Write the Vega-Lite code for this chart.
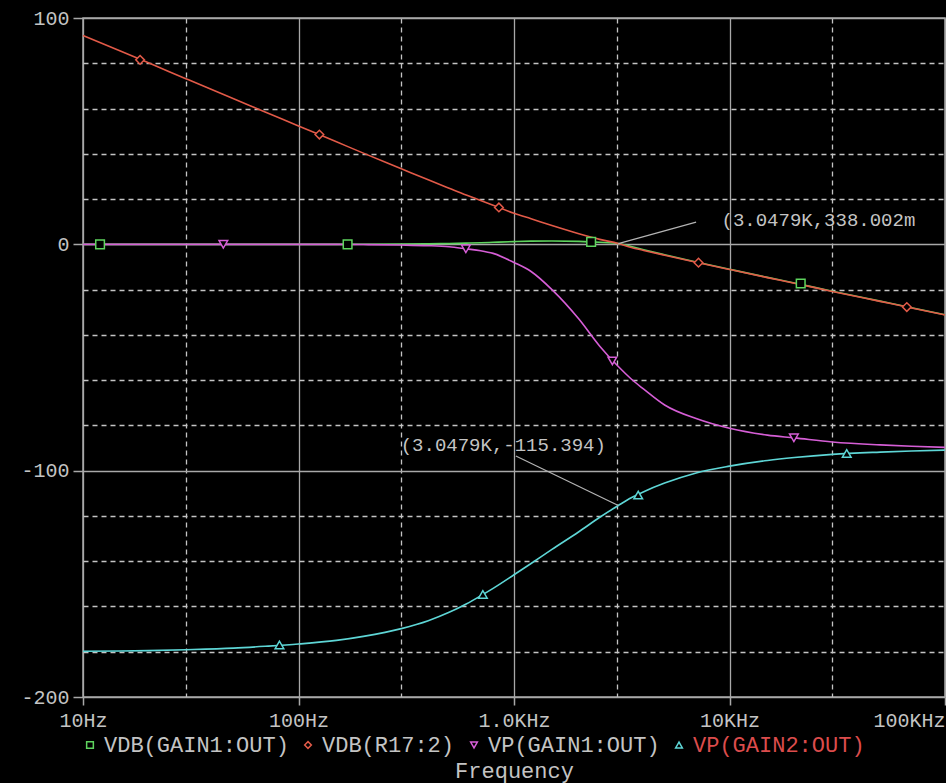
{
  "$schema": "https://vega.github.io/schema/vega-lite/v6.json",
  "width": 862,
  "height": 679,
  "autosize": {"type": "none"},
  "padding": {"left": 83, "top": 18, "right": 1, "bottom": 86},
  "background": "#000000",
  "config": {
    "view": {"stroke": "#a8a8a8", "strokeWidth": 1.5, "fill": "#000000"},
    "axis": {
      "labelFont": "Liberation Mono",
      "labelFontSize": 20,
      "labelColor": "#c4c4c4",
      "titleFont": "Liberation Mono",
      "titleFontSize": 22,
      "titleColor": "#c4c4c4",
      "titleFontWeight": "normal",
      "domain": false,
      "tickColor": "#a8a8a8",
      "tickWidth": 1.5
    },
    "legend": {
      "title": null,
      "orient": "none",
      "legendX": -4,
      "legendY": 716,
      "direction": "horizontal",
      "columns": 4,
      "padding": 0,
      "columnPadding": 8,
      "labelFont": "Liberation Mono",
      "labelFontSize": 22,
      "labelColor": "#c4c4c4",
      "labelOffset": 3,
      "labelLimit": 400,
      "symbolSize": 45,
      "symbolStrokeWidth": 1.5,
      "symbolFillColor": "#000000"
    }
  },
  "datasets": {
    "curves": [
      {"series": "VDB(GAIN1:OUT)", "f": 10, "v": 0},
      {"series": "VDB(GAIN1:OUT)", "f": 15, "v": 0},
      {"series": "VDB(GAIN1:OUT)", "f": 20, "v": 0},
      {"series": "VDB(GAIN1:OUT)", "f": 30, "v": 0},
      {"series": "VDB(GAIN1:OUT)", "f": 50, "v": 0},
      {"series": "VDB(GAIN1:OUT)", "f": 70, "v": 0},
      {"series": "VDB(GAIN1:OUT)", "f": 100, "v": 0},
      {"series": "VDB(GAIN1:OUT)", "f": 150, "v": 0},
      {"series": "VDB(GAIN1:OUT)", "f": 200, "v": 0.05},
      {"series": "VDB(GAIN1:OUT)", "f": 300, "v": 0.1},
      {"series": "VDB(GAIN1:OUT)", "f": 400, "v": 0.25},
      {"series": "VDB(GAIN1:OUT)", "f": 500, "v": 0.4},
      {"series": "VDB(GAIN1:OUT)", "f": 600, "v": 0.55},
      {"series": "VDB(GAIN1:OUT)", "f": 700, "v": 0.7},
      {"series": "VDB(GAIN1:OUT)", "f": 800, "v": 0.9},
      {"series": "VDB(GAIN1:OUT)", "f": 1000, "v": 1.2},
      {"series": "VDB(GAIN1:OUT)", "f": 1200, "v": 1.4},
      {"series": "VDB(GAIN1:OUT)", "f": 1500, "v": 1.5},
      {"series": "VDB(GAIN1:OUT)", "f": 2000, "v": 1.3},
      {"series": "VDB(GAIN1:OUT)", "f": 2500, "v": 0.9},
      {"series": "VDB(GAIN1:OUT)", "f": 3048, "v": 0.34},
      {"series": "VDB(GAIN1:OUT)", "f": 3500, "v": -1.0},
      {"series": "VDB(GAIN1:OUT)", "f": 4000, "v": -2.4},
      {"series": "VDB(GAIN1:OUT)", "f": 5000, "v": -4.6},
      {"series": "VDB(GAIN1:OUT)", "f": 7000, "v": -7.8},
      {"series": "VDB(GAIN1:OUT)", "f": 10000, "v": -11.0},
      {"series": "VDB(GAIN1:OUT)", "f": 15000, "v": -14.6},
      {"series": "VDB(GAIN1:OUT)", "f": 20000, "v": -17.1},
      {"series": "VDB(GAIN1:OUT)", "f": 30000, "v": -20.7},
      {"series": "VDB(GAIN1:OUT)", "f": 50000, "v": -25.1},
      {"series": "VDB(GAIN1:OUT)", "f": 70000, "v": -28.0},
      {"series": "VDB(GAIN1:OUT)", "f": 100000, "v": -31.1},

      {"series": "VP(GAIN1:OUT)", "f": 10, "v": 0},
      {"series": "VP(GAIN1:OUT)", "f": 15, "v": 0},
      {"series": "VP(GAIN1:OUT)", "f": 20, "v": 0},
      {"series": "VP(GAIN1:OUT)", "f": 30, "v": 0},
      {"series": "VP(GAIN1:OUT)", "f": 50, "v": 0},
      {"series": "VP(GAIN1:OUT)", "f": 70, "v": 0},
      {"series": "VP(GAIN1:OUT)", "f": 100, "v": 0},
      {"series": "VP(GAIN1:OUT)", "f": 150, "v": 0},
      {"series": "VP(GAIN1:OUT)", "f": 200, "v": -0.1},
      {"series": "VP(GAIN1:OUT)", "f": 300, "v": -0.3},
      {"series": "VP(GAIN1:OUT)", "f": 400, "v": -0.6},
      {"series": "VP(GAIN1:OUT)", "f": 500, "v": -1.1},
      {"series": "VP(GAIN1:OUT)", "f": 600, "v": -2.0},
      {"series": "VP(GAIN1:OUT)", "f": 700, "v": -2.8},
      {"series": "VP(GAIN1:OUT)", "f": 800, "v": -4.0},
      {"series": "VP(GAIN1:OUT)", "f": 1000, "v": -8.0},
      {"series": "VP(GAIN1:OUT)", "f": 1200, "v": -12.0},
      {"series": "VP(GAIN1:OUT)", "f": 1500, "v": -20.0},
      {"series": "VP(GAIN1:OUT)", "f": 2000, "v": -33.0},
      {"series": "VP(GAIN1:OUT)", "f": 2500, "v": -45.0},
      {"series": "VP(GAIN1:OUT)", "f": 3048, "v": -54.0},
      {"series": "VP(GAIN1:OUT)", "f": 3500, "v": -59.5},
      {"series": "VP(GAIN1:OUT)", "f": 4000, "v": -64.0},
      {"series": "VP(GAIN1:OUT)", "f": 5000, "v": -71.0},
      {"series": "VP(GAIN1:OUT)", "f": 7000, "v": -77.0},
      {"series": "VP(GAIN1:OUT)", "f": 10000, "v": -81.3},
      {"series": "VP(GAIN1:OUT)", "f": 15000, "v": -84.3},
      {"series": "VP(GAIN1:OUT)", "f": 20000, "v": -85.5},
      {"series": "VP(GAIN1:OUT)", "f": 30000, "v": -87.3},
      {"series": "VP(GAIN1:OUT)", "f": 50000, "v": -88.6},
      {"series": "VP(GAIN1:OUT)", "f": 70000, "v": -89.2},
      {"series": "VP(GAIN1:OUT)", "f": 100000, "v": -89.7},

      {"series": "VP(GAIN2:OUT)", "f": 10, "v": -179.8},
      {"series": "VP(GAIN2:OUT)", "f": 15, "v": -179.7},
      {"series": "VP(GAIN2:OUT)", "f": 20, "v": -179.5},
      {"series": "VP(GAIN2:OUT)", "f": 30, "v": -179.1},
      {"series": "VP(GAIN2:OUT)", "f": 50, "v": -178.4},
      {"series": "VP(GAIN2:OUT)", "f": 70, "v": -177.6},
      {"series": "VP(GAIN2:OUT)", "f": 100, "v": -176.6},
      {"series": "VP(GAIN2:OUT)", "f": 150, "v": -175.0},
      {"series": "VP(GAIN2:OUT)", "f": 200, "v": -173.2},
      {"series": "VP(GAIN2:OUT)", "f": 300, "v": -169.8},
      {"series": "VP(GAIN2:OUT)", "f": 400, "v": -166.3},
      {"series": "VP(GAIN2:OUT)", "f": 500, "v": -162.6},
      {"series": "VP(GAIN2:OUT)", "f": 600, "v": -158.9},
      {"series": "VP(GAIN2:OUT)", "f": 700, "v": -155.3},
      {"series": "VP(GAIN2:OUT)", "f": 800, "v": -152.0},
      {"series": "VP(GAIN2:OUT)", "f": 1000, "v": -146.0},
      {"series": "VP(GAIN2:OUT)", "f": 1200, "v": -141.0},
      {"series": "VP(GAIN2:OUT)", "f": 1500, "v": -134.8},
      {"series": "VP(GAIN2:OUT)", "f": 2000, "v": -127.0},
      {"series": "VP(GAIN2:OUT)", "f": 2500, "v": -120.6},
      {"series": "VP(GAIN2:OUT)", "f": 3048, "v": -115.4},
      {"series": "VP(GAIN2:OUT)", "f": 3500, "v": -112.0},
      {"series": "VP(GAIN2:OUT)", "f": 4000, "v": -109.3},
      {"series": "VP(GAIN2:OUT)", "f": 5000, "v": -105.5},
      {"series": "VP(GAIN2:OUT)", "f": 7000, "v": -101.0},
      {"series": "VP(GAIN2:OUT)", "f": 10000, "v": -98.0},
      {"series": "VP(GAIN2:OUT)", "f": 15000, "v": -95.5},
      {"series": "VP(GAIN2:OUT)", "f": 20000, "v": -94.2},
      {"series": "VP(GAIN2:OUT)", "f": 30000, "v": -92.8},
      {"series": "VP(GAIN2:OUT)", "f": 50000, "v": -91.8},
      {"series": "VP(GAIN2:OUT)", "f": 70000, "v": -91.3},
      {"series": "VP(GAIN2:OUT)", "f": 100000, "v": -90.9},

      {"series": "VDB(R17:2)", "f": 10, "v": 92.3},
      {"series": "VDB(R17:2)", "f": 15, "v": 85.3},
      {"series": "VDB(R17:2)", "f": 20, "v": 80.3},
      {"series": "VDB(R17:2)", "f": 30, "v": 73.2},
      {"series": "VDB(R17:2)", "f": 50, "v": 64.3},
      {"series": "VDB(R17:2)", "f": 70, "v": 58.5},
      {"series": "VDB(R17:2)", "f": 100, "v": 52.3},
      {"series": "VDB(R17:2)", "f": 150, "v": 45.3},
      {"series": "VDB(R17:2)", "f": 200, "v": 40.3},
      {"series": "VDB(R17:2)", "f": 300, "v": 33.4},
      {"series": "VDB(R17:2)", "f": 400, "v": 28.5},
      {"series": "VDB(R17:2)", "f": 500, "v": 24.8},
      {"series": "VDB(R17:2)", "f": 600, "v": 21.8},
      {"series": "VDB(R17:2)", "f": 700, "v": 19.4},
      {"series": "VDB(R17:2)", "f": 800, "v": 17.3},
      {"series": "VDB(R17:2)", "f": 1000, "v": 13.7},
      {"series": "VDB(R17:2)", "f": 1200, "v": 11.3},
      {"series": "VDB(R17:2)", "f": 1500, "v": 8.3},
      {"series": "VDB(R17:2)", "f": 2000, "v": 4.7},
      {"series": "VDB(R17:2)", "f": 2500, "v": 2.2},
      {"series": "VDB(R17:2)", "f": 3048, "v": 0.34},
      {"series": "VDB(R17:2)", "f": 3500, "v": -1.4},
      {"series": "VDB(R17:2)", "f": 4000, "v": -2.7},
      {"series": "VDB(R17:2)", "f": 5000, "v": -4.8},
      {"series": "VDB(R17:2)", "f": 7000, "v": -7.9},
      {"series": "VDB(R17:2)", "f": 10000, "v": -11.1},
      {"series": "VDB(R17:2)", "f": 15000, "v": -14.7},
      {"series": "VDB(R17:2)", "f": 20000, "v": -17.2},
      {"series": "VDB(R17:2)", "f": 30000, "v": -20.8},
      {"series": "VDB(R17:2)", "f": 50000, "v": -25.2},
      {"series": "VDB(R17:2)", "f": 70000, "v": -28.1},
      {"series": "VDB(R17:2)", "f": 100000, "v": -31.2}
    ],
    "markers": [
      {"series": "VDB(GAIN1:OUT)", "f": 12.0, "v": 0},
      {"series": "VDB(GAIN1:OUT)", "f": 169, "v": 0},
      {"series": "VDB(GAIN1:OUT)", "f": 2280, "v": 1.1},
      {"series": "VDB(GAIN1:OUT)", "f": 21400, "v": -17.3},
      {"series": "VDB(R17:2)", "f": 18.4, "v": 81.5},
      {"series": "VDB(R17:2)", "f": 125, "v": 48.5},
      {"series": "VDB(R17:2)", "f": 851, "v": 16.3},
      {"series": "VDB(R17:2)", "f": 7180, "v": -8.1},
      {"series": "VDB(R17:2)", "f": 66500, "v": -27.7},
      {"series": "VP(GAIN1:OUT)", "f": 44.8, "v": 0},
      {"series": "VP(GAIN1:OUT)", "f": 598, "v": -2.0},
      {"series": "VP(GAIN1:OUT)", "f": 2860, "v": -51.5},
      {"series": "VP(GAIN1:OUT)", "f": 19900, "v": -85.5},
      {"series": "VP(GAIN2:OUT)", "f": 81.6, "v": -177.0},
      {"series": "VP(GAIN2:OUT)", "f": 717, "v": -154.7},
      {"series": "VP(GAIN2:OUT)", "f": 3770, "v": -110.8},
      {"series": "VP(GAIN2:OUT)", "f": 35000, "v": -92.4}
    ],
    "cursorLines": [
      {"f": 3048, "v": 0.34, "f2": 7000, "v2": 9.8},
      {"f": 3048, "v": -115.4, "f2": 1020, "v2": -93.5}
    ],
    "cursorLabels": [
      {"f": 9180, "v": 10.6, "label": "(3.0479K,338.002m"},
      {"f": 298, "v": -88.8, "label": "(3.0479K,-115.394)"}
    ]
  },
  "layer": [
    {
      "data": {"name": "curves"},
      "mark": {"type": "line", "strokeWidth": 1.6, "interpolate": "monotone"},
      "encoding": {
        "x": {
          "field": "f",
          "type": "quantitative",
          "scale": {"type": "log", "domain": [10, 100000], "nice": false},
          "axis": {
            "values": [10, 30, 100, 300, 1000, 3000, 10000, 30000, 100000],
            "grid": true,
            "gridColor": {"condition": {"test": "datum.value === 10 || datum.value === 100 || datum.value === 1000 || datum.value === 10000 || datum.value === 100000", "value": "#a8a8a8"}, "value": "#c4c4c4"},
            "gridDash": {"condition": {"test": "datum.value === 10 || datum.value === 100 || datum.value === 1000 || datum.value === 10000 || datum.value === 100000", "value": []}, "value": [5, 4]},
            "gridWidth": 1.3,
            "tickSize": 8,
            "tickOpacity": {"condition": {"test": "datum.value === 10 || datum.value === 100 || datum.value === 1000 || datum.value === 10000 || datum.value === 100000", "value": 1}, "value": 0},
            "labelExpr": "datum.value === 10 ? '10Hz' : datum.value === 100 ? '100Hz' : datum.value === 1000 ? '1.0KHz' : datum.value === 10000 ? '10KHz' : datum.value === 100000 ? '100KHz' : ''",
            "labelAlign": {"condition": {"test": "datum.value >= 100000", "value": "right"}, "value": "center"},
            "labelOverlap": false,
            "labelBound": false,
            "labelFlush": false,
            "labelPadding": 5,
            "title": "Frequency",
            "titlePadding": 30
          }
        },
        "y": {
          "field": "v",
          "type": "quantitative",
          "scale": {"domain": [-200, 100], "nice": false, "zero": false},
          "axis": {
            "values": [-200, -180, -160, -140, -120, -100, -80, -60, -40, -20, 0, 20, 40, 60, 80, 100],
            "grid": true,
            "gridColor": {"condition": {"test": "datum.value % 100 === 0", "value": "#a8a8a8"}, "value": "#c4c4c4"},
            "gridDash": {"condition": {"test": "datum.value % 100 === 0", "value": []}, "value": [5, 4]},
            "gridWidth": 1.3,
            "tickSize": 10,
            "tickOpacity": {"condition": {"test": "datum.value % 100 === 0", "value": 1}, "value": 0},
            "labelExpr": "datum.value % 100 === 0 ? toString(datum.value) : ''",
            "labelOverlap": false,
            "labelBound": false,
            "labelFlush": false,
            "labelPadding": 4,
            "title": null
          }
        },
        "color": {
          "field": "series",
          "type": "nominal",
          "scale": {
            "domain": ["VDB(GAIN1:OUT)", "VDB(R17:2)", "VP(GAIN1:OUT)", "VP(GAIN2:OUT)"],
            "range": ["#5ed45e", "#e25a48", "#d65ed6", "#5ed6d6"]
          },
          "legend": {
            "encode": {
              "labels": {"update": {"fill": {"signal": "datum.value === 'VP(GAIN2:OUT)' ? '#dc4c4c' : '#c4c4c4'"}}}
            }
          }
        }
      }
    },
    {
      "data": {"name": "markers"},
      "mark": {"type": "point", "filled": false, "fill": "#000000", "strokeWidth": 1.5, "size": 75, "opacity": 1},
      "encoding": {
        "x": {"field": "f", "type": "quantitative"},
        "y": {"field": "v", "type": "quantitative"},
        "color": {
          "field": "series",
          "type": "nominal",
          "legend": {
            "encode": {
              "labels": {"update": {"fill": {"signal": "datum.value === 'VP(GAIN2:OUT)' ? '#dc4c4c' : '#c4c4c4'"}}}
            }
          }
        },
        "shape": {
          "field": "series",
          "type": "nominal",
          "scale": {
            "domain": ["VDB(GAIN1:OUT)", "VDB(R17:2)", "VP(GAIN1:OUT)", "VP(GAIN2:OUT)"],
            "range": ["square", "diamond", "triangle-down", "triangle-up"]
          },
          "legend": {
            "encode": {
              "labels": {"update": {"fill": {"signal": "datum.value === 'VP(GAIN2:OUT)' ? '#dc4c4c' : '#c4c4c4'"}}}
            }
          }
        }
      }
    },
    {
      "data": {"name": "cursorLines"},
      "mark": {"type": "rule", "color": "#b4b4b4", "strokeWidth": 1.2},
      "encoding": {
        "x": {"field": "f", "type": "quantitative"},
        "y": {"field": "v", "type": "quantitative"},
        "x2": {"field": "f2"},
        "y2": {"field": "v2"}
      }
    },
    {
      "data": {"name": "cursorLabels"},
      "mark": {"type": "text", "align": "left", "baseline": "middle", "font": "Liberation Mono", "fontSize": 19, "color": "#c4c4c4"},
      "encoding": {
        "x": {"field": "f", "type": "quantitative"},
        "y": {"field": "v", "type": "quantitative"},
        "text": {"field": "label"}
      }
    }
  ]
}
